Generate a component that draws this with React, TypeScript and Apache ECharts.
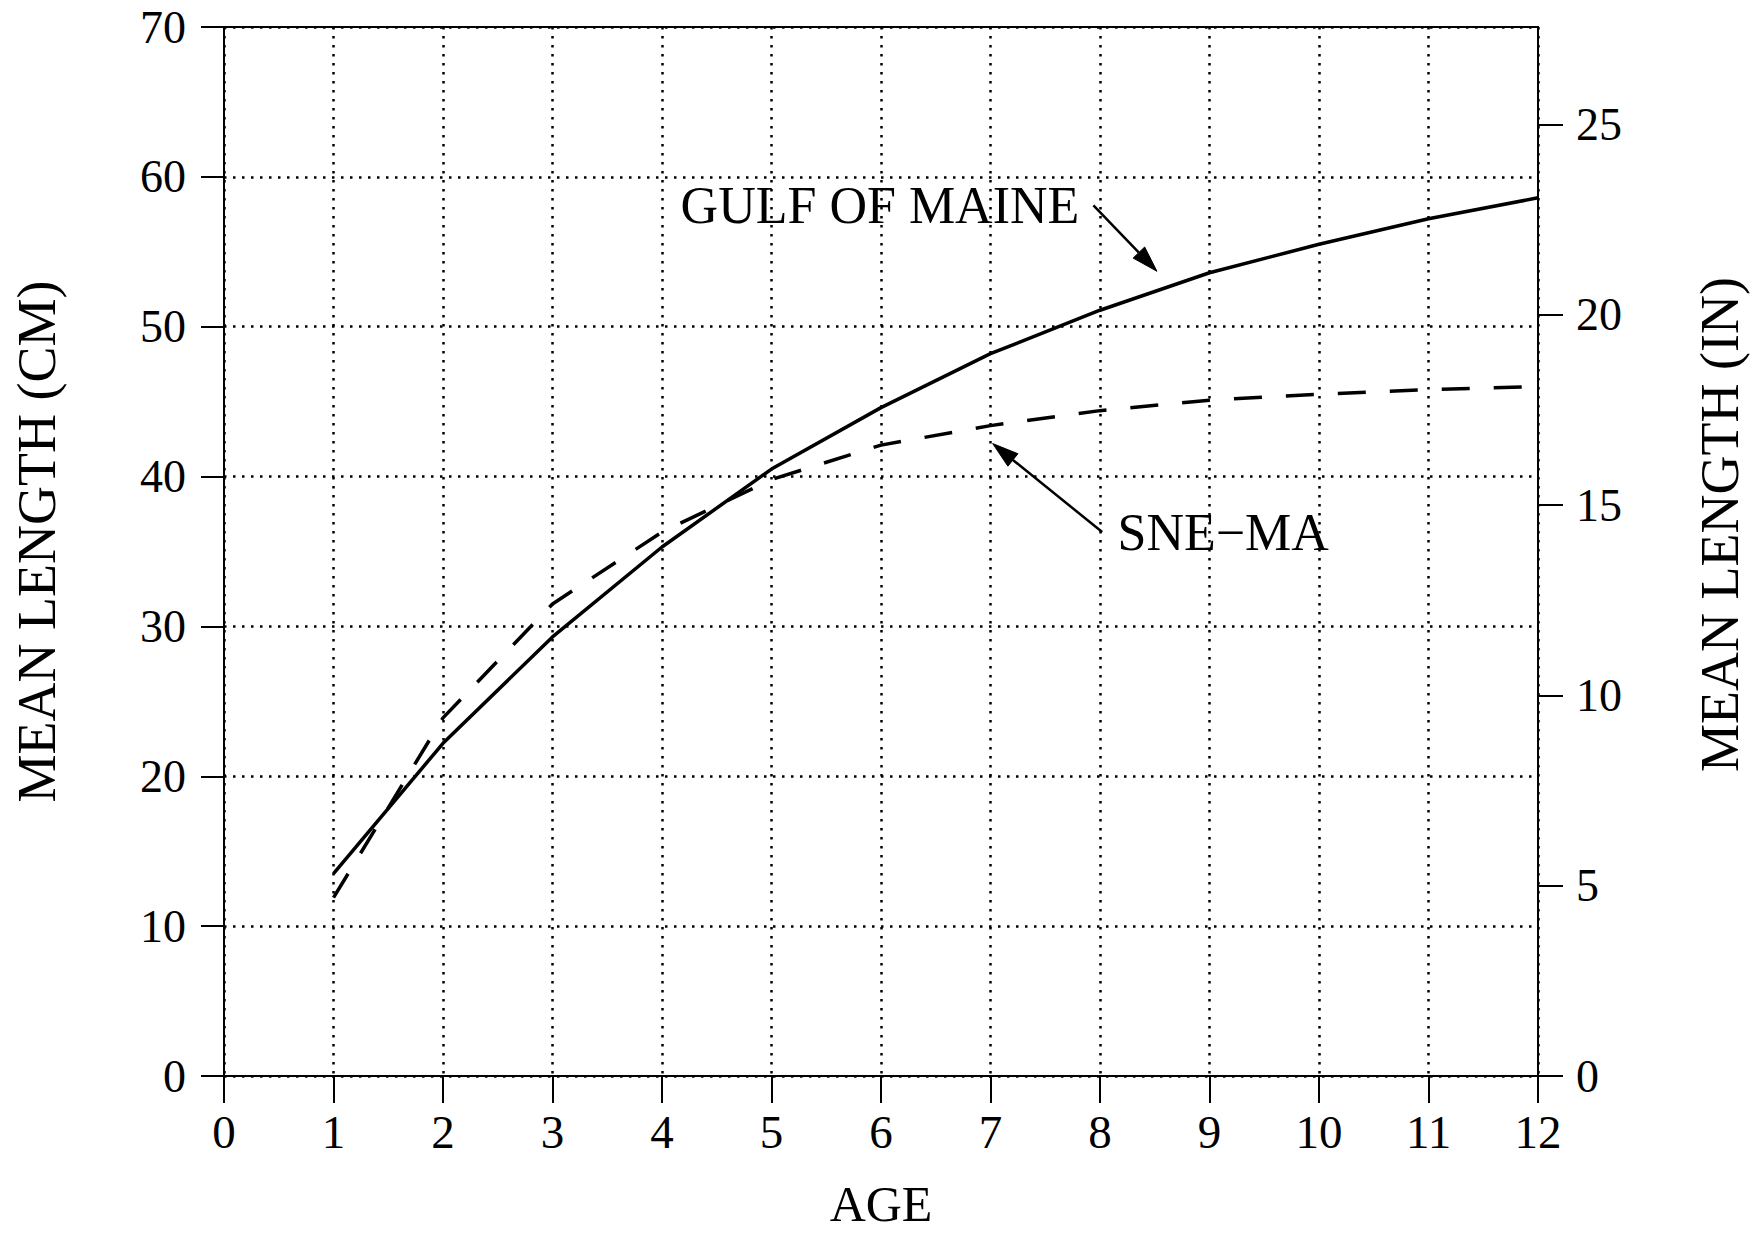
import React, { useEffect, useRef } from "react";
import * as echarts from "echarts";

// ---- Data ----
const ages = [1, 2, 3, 4, 5, 6, 7, 8, 9, 10, 11, 12];
const gulfOfMaine = [13.5, 22.2, 29.3, 35.3, 40.5, 44.6, 48.2, 51.1, 53.6, 55.5, 57.2, 58.6];
const sneMa = [11.9, 23.9, 31.5, 36.3, 39.8, 42.1, 43.4, 44.4, 45.1, 45.5, 45.8, 46.0];
const ageTicks = [0, 1, 2, 3, 4, 5, 6, 7, 8, 9, 10, 11, 12];
const cmTicks = [0, 10, 20, 30, 40, 50, 60, 70];
const inchTicks = [0, 5, 10, 15, 20, 25];
const CM_PER_IN = 2.54;

// annotation anchors in data units [age, cm]
const gulfLabel = { text: "GULF OF MAINE", at: [4.17, 58.1] };
const gulfArrow = { from: [7.94, 58.1], to: [8.52, 53.7] };
const sneLabel = { text: "SNE\u2212MA", at: [8.16, 36.3] };
const sneArrow = { from: [8.02, 36.3], to: [7.02, 42.2] };

const FONT = "'Liberation Serif', 'Times New Roman', serif";

export default function App() {
  const ref = useRef<HTMLDivElement>(null);

  useEffect(() => {
    document.body.style.margin = "0";
    const chart = echarts.init(ref.current!, null, { renderer: "svg" });
    const dotted = { color: "#000", width: 2.5, type: [2.5, 6.5] as number[] };
    const option: any = {
      animation: false,
      backgroundColor: "#fff",
      grid: {
        left: 224,
        top: 27,
        width: 1314,
        height: 1049,
        containLabel: false,
        outerBoundsMode: "none",
        show: true,
        borderColor: "#000",
        borderWidth: 2,
        backgroundColor: "transparent",
      },
      xAxis: {
        type: "value",
        min: ageTicks[0],
        max: ageTicks[ageTicks.length - 1],
        interval: 1,
        name: "AGE",
        nameLocation: "middle",
        nameGap: 108,
        nameTextStyle: { fontFamily: FONT, fontSize: 50, lineHeight: 40, color: "#000" },
        axisLine: { show: true, lineStyle: { color: "#000", width: 2 } },
        axisTick: { show: true, length: 27, lineStyle: { color: "#000", width: 2 } },
        axisLabel: { fontFamily: FONT, fontSize: 47, color: "#000", margin: 32 },
        splitLine: { show: true, lineStyle: dotted },
      },
      yAxis: [
        {
          type: "value",
          position: "left",
          min: cmTicks[0],
          max: cmTicks[cmTicks.length - 1],
          interval: 10,
          name: "MEAN LENGTH (CM)",
          nameLocation: "middle",
          nameRotate: 90,
          nameGap: 160,
          nameTextStyle: {
            fontFamily: FONT,
            fontSize: 54,
            color: "#000",
            padding: [0, 0, 0, 20],
          },
          axisLine: { show: true, lineStyle: { color: "#000", width: 2 } },
          axisTick: { show: true, length: 23, lineStyle: { color: "#000", width: 2 } },
          axisLabel: {
            fontFamily: FONT,
            fontSize: 46,
            lineHeight: 40,
            color: "#000",
            margin: 38,
          },
          splitLine: { show: true, lineStyle: dotted },
        },
        {
          type: "value",
          position: "right",
          min: 0,
          max: cmTicks[cmTicks.length - 1] / CM_PER_IN,
          name: "MEAN LENGTH (IN)",
          nameLocation: "middle",
          nameRotate: 90,
          nameGap: 155,
          nameTextStyle: {
            fontFamily: FONT,
            fontSize: 54,
            color: "#000",
            padding: [0, 0, 0, 54],
          },
          axisLine: { show: true, lineStyle: { color: "#000", width: 2 } },
          axisTick: {
            show: true,
            length: 25,
            customValues: inchTicks,
            lineStyle: { color: "#000", width: 2 },
          },
          axisLabel: {
            fontFamily: FONT,
            fontSize: 46,
            color: "#000",
            margin: 38,
            customValues: inchTicks,
          },
          splitLine: { show: false },
        },
      ],
      series: [
        {
          name: "GULF OF MAINE",
          type: "line",
          yAxisIndex: 0,
          data: ages.map((a, i) => [a, gulfOfMaine[i]]),
          showSymbol: false,
          symbol: "none",
          lineStyle: { color: "#000", width: 3.5, type: "solid" },
          z: 5,
        },
        {
          name: "SNE-MA",
          type: "line",
          yAxisIndex: 0,
          data: ages.map((a, i) => [a, sneMa[i]]),
          showSymbol: false,
          symbol: "none",
          lineStyle: { color: "#000", width: 3.5, type: [28, 24] },
          z: 5,
        },
      ],
    };
    chart.setOption(option);

    const px = (p: number[]) =>
      chart.convertToPixel({ xAxisIndex: 0, yAxisIndex: 0 }, p) as number[];

    const arrow = (from: number[], to: number[]) => {
      const a = px(from);
      const b = px(to);
      const dx = b[0] - a[0];
      const dy = b[1] - a[1];
      const len = Math.hypot(dx, dy);
      const ux = dx / len;
      const uy = dy / len;
      const headLen = 26;
      const headW = 8;
      const bx = b[0] - ux * headLen;
      const by = b[1] - uy * headLen;
      return [
        {
          type: "line",
          shape: { x1: a[0], y1: a[1], x2: bx, y2: by },
          style: { stroke: "#000", lineWidth: 2.5 },
          z: 10,
        },
        {
          type: "polygon",
          shape: {
            points: [
              [b[0], b[1]],
              [bx - uy * headW, by + ux * headW],
              [bx + uy * headW, by - ux * headW],
            ],
          },
          style: { fill: "#000", stroke: "#000", lineWidth: 1 },
          z: 10,
        },
      ];
    };

    const label = (l: { text: string; at: number[] }) => {
      const p = px(l.at);
      return {
        type: "text",
        x: p[0],
        y: p[1],
        style: {
          text: l.text,
          fontFamily: FONT,
          fontSize: 52,
          fill: "#000",
          textAlign: "left",
          textVerticalAlign: "middle",
        },
        z: 10,
      };
    };

    chart.setOption({
      graphic: [
        label(gulfLabel),
        ...arrow(gulfArrow.from, gulfArrow.to),
        label(sneLabel),
        ...arrow(sneArrow.from, sneArrow.to),
      ],
    });

    return () => chart.dispose();
  }, []);

  return (
    <div
      ref={ref}
      style={{ position: "absolute", left: 0, top: 0, width: 1754, height: 1234 }}
    />
  );
}
